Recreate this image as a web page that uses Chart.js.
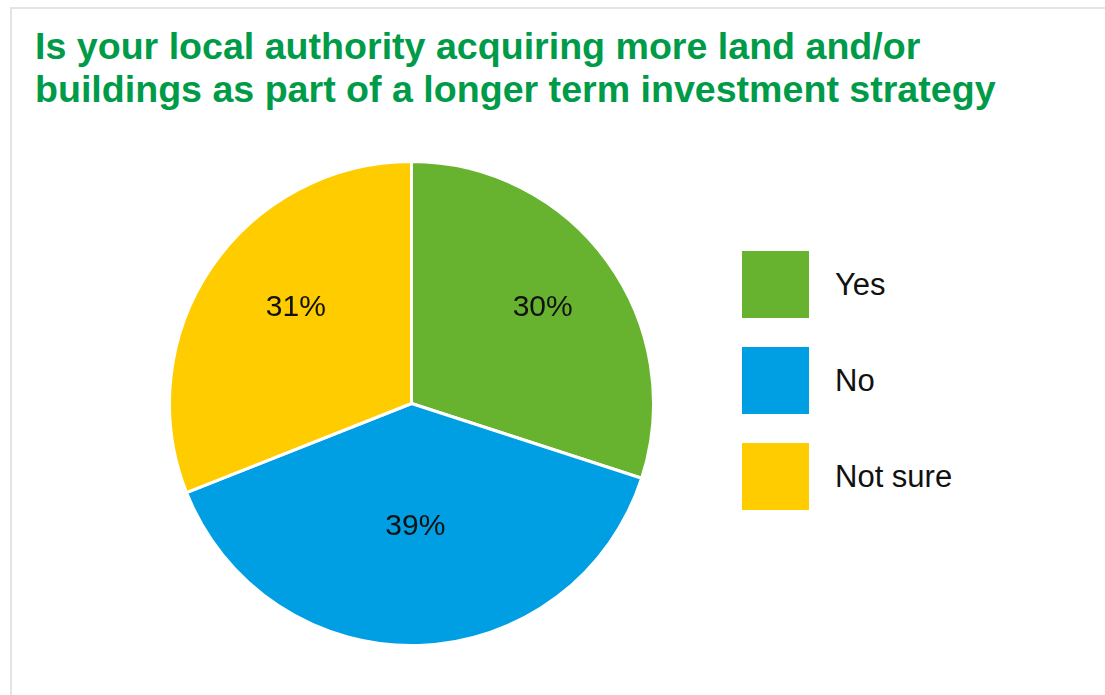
<!DOCTYPE html>
<html>
<head>
<meta charset="utf-8">
<script src="https://cdn.jsdelivr.net/npm/chart.js@4"></script>
<style>
    html, body { margin: 0; padding: 0; background: #fff; overflow: hidden; }
    body { width: 1105px; height: 695px; position: relative; font-family: "Liberation Sans", Arial, sans-serif; }
    #frame {
        position: absolute; left: 10px; top: 7px; width: 1200px; height: 800px;
        border-top: 2px solid #e4e4e4; border-left: 2px solid #e4e4e4;
    }
    #title {
        position: absolute; left: 35px; top: 25px; margin: 0;
        font-size: 37.6px; line-height: 43px; font-weight: bold; color: #009b48;
    }
    #pie-wrap { position: absolute; left: 168px; top: 160px; width: 487px; height: 487px; }
    #legend { position: absolute; left: 742px; top: 251px; }
    .legend-item { display: flex; align-items: center; height: 67px; margin-bottom: 29px; }
    .legend-box { width: 67px; height: 67px; margin-right: 26px; }
    .legend-text { font-size: 31px; color: #111; }
</style>
</head>
<body>
<div id="frame"></div>
<h1 id="title">Is your local authority acquiring more land and/or<br>buildings as part of a longer term investment strategy</h1>
<div id="pie-wrap"><canvas id="pie_chart"></canvas></div>
<div id="legend"></div>

<script>
// --- Data ---
const categories = ['Yes', 'No', 'Not sure'];
const shares = [30, 39, 31];
const sliceColors = ['#67b330', '#009fe3', '#ffcc00'];

// label placement inside each slice: fraction of radius, and a small angle nudge (radians)
const labelRadius = [0.67, 0.51, 0.62];
const labelNudge = [0, 0, 0.094];

document.addEventListener('DOMContentLoaded', () => {
    // --- Slice labels plugin ---
    const sliceLabels = {
        id: 'sliceLabels',
        afterDatasetsDraw(chart) {
            const ctx = chart.ctx;
            const meta = chart.getDatasetMeta(0);
            ctx.save();
            ctx.font = '30px "Liberation Sans", Arial, sans-serif';
            ctx.fillStyle = '#111';
            ctx.textAlign = 'center';
            ctx.textBaseline = 'middle';
            meta.data.forEach((arc, i) => {
                const p = arc.getProps(['x', 'y', 'startAngle', 'endAngle', 'outerRadius'], true);
                const mid = (p.startAngle + p.endAngle) / 2 + labelNudge[i];
                const r = p.outerRadius * labelRadius[i];
                ctx.fillText(shares[i] + '%', p.x + Math.cos(mid) * r, p.y + Math.sin(mid) * r);
            });
            ctx.restore();
        }
    };

    const ctx = document.getElementById('pie_chart').getContext('2d');
    new Chart(ctx, {
        type: 'pie',
        data: {
            labels: categories,
            datasets: [{
                data: shares,
                backgroundColor: sliceColors,
                borderColor: '#ffffff',
                borderWidth: 3,
                hoverOffset: 0
            }]
        },
        options: {
            responsive: true,
            maintainAspectRatio: false,
            animation: false,
            layout: { padding: 0 },
            plugins: {
                legend: { display: false },
                tooltip: { enabled: false }
            }
        },
        plugins: [sliceLabels]
    });

    // --- Legend (built from the same arrays) ---
    const legendEl = document.getElementById('legend');
    categories.forEach((name, i) => {
        const item = document.createElement('div');
        item.className = 'legend-item';
        const box = document.createElement('div');
        box.className = 'legend-box';
        box.style.background = sliceColors[i];
        const txt = document.createElement('span');
        txt.className = 'legend-text';
        txt.textContent = name;
        item.appendChild(box);
        item.appendChild(txt);
        legendEl.appendChild(item);
    });
});
</script>
</body>
</html>
